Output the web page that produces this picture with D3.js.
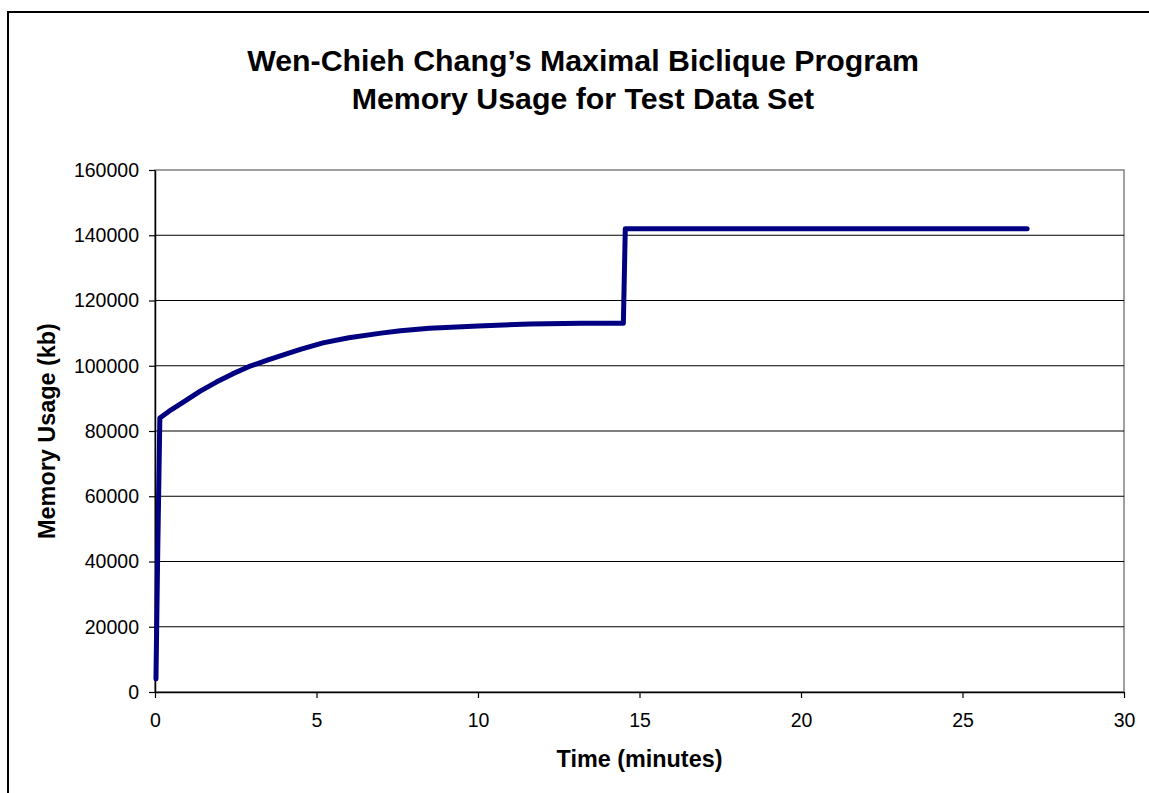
<!DOCTYPE html>
<html>
<head>
<meta charset="utf-8">
<script src="https://cdn.jsdelivr.net/npm/d3@7/dist/d3.min.js"></script>
<style>
  html, body { margin: 0; padding: 0; background: #fff; }
  svg { display: block; font-family: "Liberation Sans", Arial, sans-serif; }
</style>
</head>
<body>
<svg id="chart" width="1149" height="793"></svg>
<script>
// Memory usage samples (minutes, kb)
const timeMin  = [0.03, 0.08, 0.15, 0.5, 0.9, 1.4, 1.9, 2.4, 2.9, 3.5, 4.5, 5.2, 6.0, 7.0, 7.6, 8.5, 10.0, 11.6, 13.2, 14.5, 14.56, 27.0];
const memoryKb = [4000, 40000, 84000, 86500, 89000, 92200, 95000, 97500, 99700, 101800, 105000, 107000, 108600, 110000, 110700, 111500, 112200, 112800, 113000, 113000, 142000, 142000];

const xTicks = [0, 5, 10, 15, 20, 25, 30];
const yTicks = [0, 20000, 40000, 60000, 80000, 100000, 120000, 140000, 160000];

const titleLines = ["Wen-Chieh Chang\u2019s Maximal Biclique Program", "Memory Usage for Test Data Set"];
const xLabel = "Time (minutes)";
const yLabel = "Memory Usage (kb)";

const svg = d3.select("#chart");
const plot = { left: 155, top: 170, right: 1124, bottom: 692 };

const x = d3.scaleLinear().domain([0, 30]).range([plot.left, plot.right]);
const y = d3.scaleLinear().domain([0, 160000]).range([plot.bottom, plot.top]);

// Outer chart frame (left and top edges visible)
svg.append("path")
  .attr("d", "M8,800 L8,12 L1160,12")
  .attr("fill", "none").attr("stroke", "#000").attr("stroke-width", 2);

// Title
svg.append("text")
  .attr("x", 583).attr("y", 71)
  .attr("text-anchor", "middle")
  .attr("font-size", "30.3px").attr("font-weight", "bold")
  .selectAll("tspan").data(titleLines).join("tspan")
  .attr("x", 583).attr("dy", (d, i) => i === 0 ? 0 : 38)
  .text(d => d);

// Plot area border
svg.append("rect")
  .attr("x", plot.left).attr("y", plot.top)
  .attr("width", plot.right - plot.left).attr("height", plot.bottom - plot.top)
  .attr("fill", "none").attr("stroke", "#808080").attr("stroke-width", 1.5);

// Horizontal gridlines
svg.append("g").selectAll("line").data(yTicks.filter(v => v > 0 && v < 160000)).join("line")
  .attr("x1", plot.left).attr("x2", plot.right)
  .attr("y1", d => y(d)).attr("y2", d => y(d))
  .attr("stroke", "#000").attr("stroke-width", 1);

// Axes
const yAxis = d3.axisLeft(y).tickValues(yTicks).tickFormat(d3.format("d")).tickSizeInner(6).tickSizeOuter(0).tickPadding(10);
const xAxis = d3.axisBottom(x).tickValues(xTicks).tickFormat(d3.format("d")).tickSizeInner(6).tickSizeOuter(0).tickPadding(15);

const gy = svg.append("g").attr("transform", `translate(${plot.left},0)`).call(yAxis);
const gx = svg.append("g").attr("transform", `translate(0,${plot.bottom})`).call(xAxis);

[gx, gy].forEach(g => {
  g.select(".domain").attr("stroke", "#000").attr("stroke-width", 1.5);
  g.selectAll(".tick line").attr("stroke", "#000").attr("stroke-width", 1.2);
  g.selectAll(".tick text")
    .attr("font-family", "'Liberation Sans', Arial, sans-serif")
    .attr("font-size", "19.5px").attr("fill", "#000");
});

// Axis titles
svg.append("text")
  .attr("x", (plot.left + plot.right) / 2).attr("y", 767)
  .attr("text-anchor", "middle")
  .attr("font-size", "23.4px").attr("font-weight", "bold")
  .text(xLabel);

svg.append("text")
  .attr("transform", `translate(55,${(plot.top + plot.bottom) / 2}) rotate(-90)`)
  .attr("text-anchor", "middle")
  .attr("font-size", "23.4px").attr("font-weight", "bold")
  .text(yLabel);

// Memory usage line
const line = d3.line().x((d, i) => x(timeMin[i])).y(d => y(d));
svg.append("path")
  .datum(memoryKb)
  .attr("d", line)
  .attr("fill", "none")
  .attr("stroke", "#000080")
  .attr("stroke-width", 5)
  .attr("stroke-linejoin", "round")
  .attr("stroke-linecap", "round");
</script>
</body>
</html>
